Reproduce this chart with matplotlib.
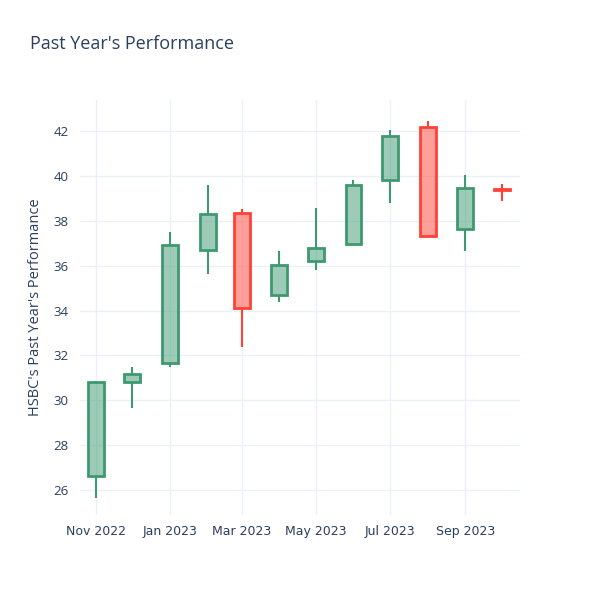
import pandas as pd
import matplotlib.pyplot as plt
import matplotlib.dates as mdates

plt.rcParams['font.family'] = ['Open Sans', 'DejaVu Sans']

# monthly candles
months = pd.date_range("2022-11-01", "2023-10-01", freq="MS")
opens = [26.63, 30.83, 31.68, 36.70, 38.36, 34.69, 36.22, 36.96, 39.82, 42.16, 37.62, 39.42]
closes = [30.83, 31.16, 36.92, 38.30, 34.10, 36.04, 36.80, 39.61, 41.78, 37.32, 39.45, 39.35]
highs = [30.85, 31.50, 37.49, 39.59, 38.51, 36.67, 38.58, 39.82, 42.04, 42.45, 40.02, 39.62]
lows = [25.63, 29.64, 31.50, 35.63, 32.39, 34.39, 35.81, 36.96, 38.78, 37.32, 36.65, 38.89]

text_color = '#2a3f5f'
grid_color = '#ebf0f8'
up_color = '#3D9970'
down_color = '#FF4136'

fig = plt.figure(figsize=(6, 6), dpi=100)
ax = fig.add_axes([80/600, 85/600, 440/600, 415/600])

width = pd.Timedelta(days=13)
for d, o, c, h, l in zip(months, opens, closes, highs, lows):
    col = up_color if c >= o else down_color
    lo_b, hi_b = min(o, c), max(o, c)
    # wicks
    ax.plot([d, d], [hi_b, h], color=col, lw=1.5, zorder=2, solid_capstyle='butt')
    ax.plot([d, d], [l, lo_b], color=col, lw=1.5, zorder=2, solid_capstyle='butt')
    # body
    body_h = max(hi_b - lo_b, 0.02)
    ax.add_patch(plt.Rectangle((mdates.date2num(d - width / 2), lo_b),
                               width.days, body_h,
                               facecolor=col, alpha=0.5, edgecolor='none', zorder=3))
    ax.add_patch(plt.Rectangle((mdates.date2num(d - width / 2), lo_b),
                               width.days, body_h,
                               facecolor='none', edgecolor=col, lw=2, zorder=4))

ax.set_xlim(pd.Timestamp("2022-10-19"), pd.Timestamp("2023-10-16"))
ax.set_ylim(24.89, 43.38)
ax.set_yticks(range(26, 43, 2))
ax.xaxis.set_major_locator(mdates.MonthLocator(bymonth=[1, 3, 5, 7, 9, 11]))
ax.xaxis.set_major_formatter(mdates.DateFormatter('%b %Y'))

ax.grid(True, color=grid_color, lw=1)
ax.set_axisbelow(True)
for s in ax.spines.values():
    s.set_visible(False)
ax.tick_params(colors=text_color, labelsize=9.5, length=0)
ax.tick_params(axis='y', pad=8)
ax.tick_params(axis='x', pad=7)

ax.set_ylabel("HSBC's Past Year's Performance", color=text_color, fontsize=10.5, labelpad=8)
fig.text(30/600, 1 - 44/600, "Past Year's Performance", color=text_color,
         fontsize=13, va='center', ha='left')

# DejaVu for the dates so all labels sit on one line
fig.canvas.draw()
for t in ax.xaxis.get_major_ticks():
    t.label1.set_family('DejaVu Sans')
    t.label1.set_fontsize(9)

fig.savefig("out.png", dpi=100)
